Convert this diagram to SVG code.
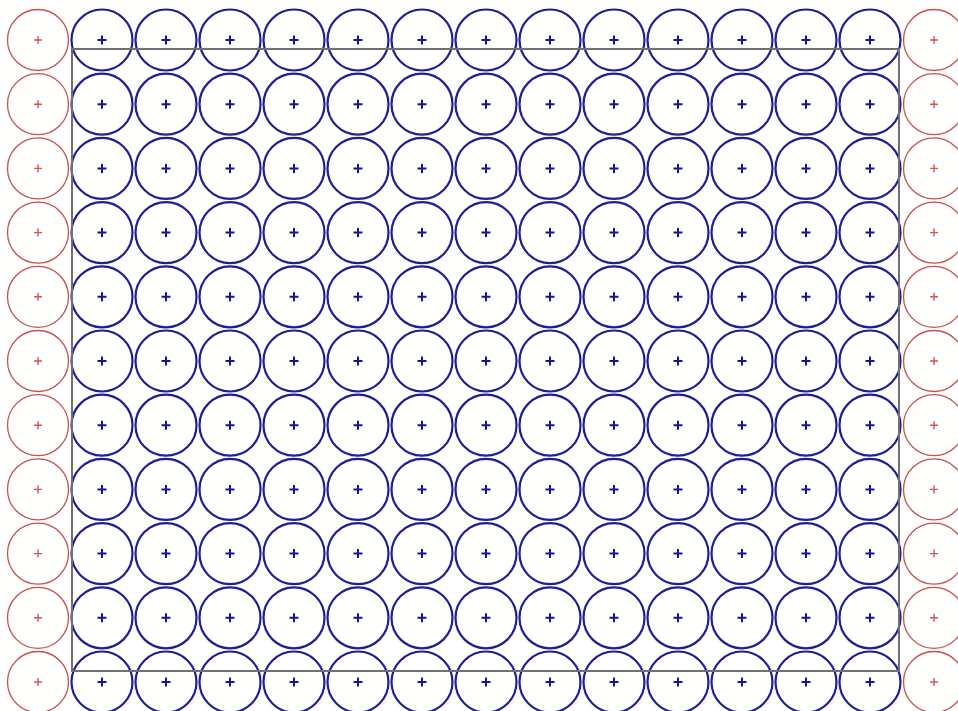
<svg xmlns="http://www.w3.org/2000/svg" xmlns:xlink="http://www.w3.org/1999/xlink" width="958" height="711" viewBox="0 0 958 711">
<style>
.bc{fill:none;stroke:#1e1e96;stroke-width:2.2}
.bp{fill:none;stroke:#1414a0;stroke-width:2}
.rc{fill:none;stroke:#c85050;stroke-width:1.3}
.rp{fill:none;stroke:#d05858;stroke-width:1.4}
.frame{fill:none;stroke:#707070;stroke-width:2}
</style>
<defs>
<g id="blue"><circle class="bc" r="30.5"/><path class="bp" d="M-4.5 0H4.5M0 -4.5V4.5"/></g>
<g id="red"><circle class="rc" r="30.5"/><path class="rp" d="M-4 0H4M0 -4V4"/></g>
</defs>
<rect width="958" height="711" fill="#fffffd"/>
<g id="row0" transform="translate(0 40)">
<g id="n0-0" transform="translate(38 0)"><use href="#red"/></g>
<g id="n0-1" transform="translate(102 0)"><use href="#blue"/></g>
<g id="n0-2" transform="translate(166 0)"><use href="#blue"/></g>
<g id="n0-3" transform="translate(230 0)"><use href="#blue"/></g>
<g id="n0-4" transform="translate(294 0)"><use href="#blue"/></g>
<g id="n0-5" transform="translate(358 0)"><use href="#blue"/></g>
<g id="n0-6" transform="translate(422 0)"><use href="#blue"/></g>
<g id="n0-7" transform="translate(486 0)"><use href="#blue"/></g>
<g id="n0-8" transform="translate(550 0)"><use href="#blue"/></g>
<g id="n0-9" transform="translate(614 0)"><use href="#blue"/></g>
<g id="n0-10" transform="translate(678 0)"><use href="#blue"/></g>
<g id="n0-11" transform="translate(742 0)"><use href="#blue"/></g>
<g id="n0-12" transform="translate(806 0)"><use href="#blue"/></g>
<g id="n0-13" transform="translate(870 0)"><use href="#blue"/></g>
<g id="n0-14" transform="translate(934 0)"><use href="#red"/></g>
</g>
<g id="row1" transform="translate(0 104.2)">
<g id="n1-0" transform="translate(38 0)"><use href="#red"/></g>
<g id="n1-1" transform="translate(102 0)"><use href="#blue"/></g>
<g id="n1-2" transform="translate(166 0)"><use href="#blue"/></g>
<g id="n1-3" transform="translate(230 0)"><use href="#blue"/></g>
<g id="n1-4" transform="translate(294 0)"><use href="#blue"/></g>
<g id="n1-5" transform="translate(358 0)"><use href="#blue"/></g>
<g id="n1-6" transform="translate(422 0)"><use href="#blue"/></g>
<g id="n1-7" transform="translate(486 0)"><use href="#blue"/></g>
<g id="n1-8" transform="translate(550 0)"><use href="#blue"/></g>
<g id="n1-9" transform="translate(614 0)"><use href="#blue"/></g>
<g id="n1-10" transform="translate(678 0)"><use href="#blue"/></g>
<g id="n1-11" transform="translate(742 0)"><use href="#blue"/></g>
<g id="n1-12" transform="translate(806 0)"><use href="#blue"/></g>
<g id="n1-13" transform="translate(870 0)"><use href="#blue"/></g>
<g id="n1-14" transform="translate(934 0)"><use href="#red"/></g>
</g>
<g id="row2" transform="translate(0 168.4)">
<g id="n2-0" transform="translate(38 0)"><use href="#red"/></g>
<g id="n2-1" transform="translate(102 0)"><use href="#blue"/></g>
<g id="n2-2" transform="translate(166 0)"><use href="#blue"/></g>
<g id="n2-3" transform="translate(230 0)"><use href="#blue"/></g>
<g id="n2-4" transform="translate(294 0)"><use href="#blue"/></g>
<g id="n2-5" transform="translate(358 0)"><use href="#blue"/></g>
<g id="n2-6" transform="translate(422 0)"><use href="#blue"/></g>
<g id="n2-7" transform="translate(486 0)"><use href="#blue"/></g>
<g id="n2-8" transform="translate(550 0)"><use href="#blue"/></g>
<g id="n2-9" transform="translate(614 0)"><use href="#blue"/></g>
<g id="n2-10" transform="translate(678 0)"><use href="#blue"/></g>
<g id="n2-11" transform="translate(742 0)"><use href="#blue"/></g>
<g id="n2-12" transform="translate(806 0)"><use href="#blue"/></g>
<g id="n2-13" transform="translate(870 0)"><use href="#blue"/></g>
<g id="n2-14" transform="translate(934 0)"><use href="#red"/></g>
</g>
<g id="row3" transform="translate(0 232.6)">
<g id="n3-0" transform="translate(38 0)"><use href="#red"/></g>
<g id="n3-1" transform="translate(102 0)"><use href="#blue"/></g>
<g id="n3-2" transform="translate(166 0)"><use href="#blue"/></g>
<g id="n3-3" transform="translate(230 0)"><use href="#blue"/></g>
<g id="n3-4" transform="translate(294 0)"><use href="#blue"/></g>
<g id="n3-5" transform="translate(358 0)"><use href="#blue"/></g>
<g id="n3-6" transform="translate(422 0)"><use href="#blue"/></g>
<g id="n3-7" transform="translate(486 0)"><use href="#blue"/></g>
<g id="n3-8" transform="translate(550 0)"><use href="#blue"/></g>
<g id="n3-9" transform="translate(614 0)"><use href="#blue"/></g>
<g id="n3-10" transform="translate(678 0)"><use href="#blue"/></g>
<g id="n3-11" transform="translate(742 0)"><use href="#blue"/></g>
<g id="n3-12" transform="translate(806 0)"><use href="#blue"/></g>
<g id="n3-13" transform="translate(870 0)"><use href="#blue"/></g>
<g id="n3-14" transform="translate(934 0)"><use href="#red"/></g>
</g>
<g id="row4" transform="translate(0 296.8)">
<g id="n4-0" transform="translate(38 0)"><use href="#red"/></g>
<g id="n4-1" transform="translate(102 0)"><use href="#blue"/></g>
<g id="n4-2" transform="translate(166 0)"><use href="#blue"/></g>
<g id="n4-3" transform="translate(230 0)"><use href="#blue"/></g>
<g id="n4-4" transform="translate(294 0)"><use href="#blue"/></g>
<g id="n4-5" transform="translate(358 0)"><use href="#blue"/></g>
<g id="n4-6" transform="translate(422 0)"><use href="#blue"/></g>
<g id="n4-7" transform="translate(486 0)"><use href="#blue"/></g>
<g id="n4-8" transform="translate(550 0)"><use href="#blue"/></g>
<g id="n4-9" transform="translate(614 0)"><use href="#blue"/></g>
<g id="n4-10" transform="translate(678 0)"><use href="#blue"/></g>
<g id="n4-11" transform="translate(742 0)"><use href="#blue"/></g>
<g id="n4-12" transform="translate(806 0)"><use href="#blue"/></g>
<g id="n4-13" transform="translate(870 0)"><use href="#blue"/></g>
<g id="n4-14" transform="translate(934 0)"><use href="#red"/></g>
</g>
<g id="row5" transform="translate(0 361)">
<g id="n5-0" transform="translate(38 0)"><use href="#red"/></g>
<g id="n5-1" transform="translate(102 0)"><use href="#blue"/></g>
<g id="n5-2" transform="translate(166 0)"><use href="#blue"/></g>
<g id="n5-3" transform="translate(230 0)"><use href="#blue"/></g>
<g id="n5-4" transform="translate(294 0)"><use href="#blue"/></g>
<g id="n5-5" transform="translate(358 0)"><use href="#blue"/></g>
<g id="n5-6" transform="translate(422 0)"><use href="#blue"/></g>
<g id="n5-7" transform="translate(486 0)"><use href="#blue"/></g>
<g id="n5-8" transform="translate(550 0)"><use href="#blue"/></g>
<g id="n5-9" transform="translate(614 0)"><use href="#blue"/></g>
<g id="n5-10" transform="translate(678 0)"><use href="#blue"/></g>
<g id="n5-11" transform="translate(742 0)"><use href="#blue"/></g>
<g id="n5-12" transform="translate(806 0)"><use href="#blue"/></g>
<g id="n5-13" transform="translate(870 0)"><use href="#blue"/></g>
<g id="n5-14" transform="translate(934 0)"><use href="#red"/></g>
</g>
<g id="row6" transform="translate(0 425.2)">
<g id="n6-0" transform="translate(38 0)"><use href="#red"/></g>
<g id="n6-1" transform="translate(102 0)"><use href="#blue"/></g>
<g id="n6-2" transform="translate(166 0)"><use href="#blue"/></g>
<g id="n6-3" transform="translate(230 0)"><use href="#blue"/></g>
<g id="n6-4" transform="translate(294 0)"><use href="#blue"/></g>
<g id="n6-5" transform="translate(358 0)"><use href="#blue"/></g>
<g id="n6-6" transform="translate(422 0)"><use href="#blue"/></g>
<g id="n6-7" transform="translate(486 0)"><use href="#blue"/></g>
<g id="n6-8" transform="translate(550 0)"><use href="#blue"/></g>
<g id="n6-9" transform="translate(614 0)"><use href="#blue"/></g>
<g id="n6-10" transform="translate(678 0)"><use href="#blue"/></g>
<g id="n6-11" transform="translate(742 0)"><use href="#blue"/></g>
<g id="n6-12" transform="translate(806 0)"><use href="#blue"/></g>
<g id="n6-13" transform="translate(870 0)"><use href="#blue"/></g>
<g id="n6-14" transform="translate(934 0)"><use href="#red"/></g>
</g>
<g id="row7" transform="translate(0 489.4)">
<g id="n7-0" transform="translate(38 0)"><use href="#red"/></g>
<g id="n7-1" transform="translate(102 0)"><use href="#blue"/></g>
<g id="n7-2" transform="translate(166 0)"><use href="#blue"/></g>
<g id="n7-3" transform="translate(230 0)"><use href="#blue"/></g>
<g id="n7-4" transform="translate(294 0)"><use href="#blue"/></g>
<g id="n7-5" transform="translate(358 0)"><use href="#blue"/></g>
<g id="n7-6" transform="translate(422 0)"><use href="#blue"/></g>
<g id="n7-7" transform="translate(486 0)"><use href="#blue"/></g>
<g id="n7-8" transform="translate(550 0)"><use href="#blue"/></g>
<g id="n7-9" transform="translate(614 0)"><use href="#blue"/></g>
<g id="n7-10" transform="translate(678 0)"><use href="#blue"/></g>
<g id="n7-11" transform="translate(742 0)"><use href="#blue"/></g>
<g id="n7-12" transform="translate(806 0)"><use href="#blue"/></g>
<g id="n7-13" transform="translate(870 0)"><use href="#blue"/></g>
<g id="n7-14" transform="translate(934 0)"><use href="#red"/></g>
</g>
<g id="row8" transform="translate(0 553.6)">
<g id="n8-0" transform="translate(38 0)"><use href="#red"/></g>
<g id="n8-1" transform="translate(102 0)"><use href="#blue"/></g>
<g id="n8-2" transform="translate(166 0)"><use href="#blue"/></g>
<g id="n8-3" transform="translate(230 0)"><use href="#blue"/></g>
<g id="n8-4" transform="translate(294 0)"><use href="#blue"/></g>
<g id="n8-5" transform="translate(358 0)"><use href="#blue"/></g>
<g id="n8-6" transform="translate(422 0)"><use href="#blue"/></g>
<g id="n8-7" transform="translate(486 0)"><use href="#blue"/></g>
<g id="n8-8" transform="translate(550 0)"><use href="#blue"/></g>
<g id="n8-9" transform="translate(614 0)"><use href="#blue"/></g>
<g id="n8-10" transform="translate(678 0)"><use href="#blue"/></g>
<g id="n8-11" transform="translate(742 0)"><use href="#blue"/></g>
<g id="n8-12" transform="translate(806 0)"><use href="#blue"/></g>
<g id="n8-13" transform="translate(870 0)"><use href="#blue"/></g>
<g id="n8-14" transform="translate(934 0)"><use href="#red"/></g>
</g>
<g id="row9" transform="translate(0 617.8)">
<g id="n9-0" transform="translate(38 0)"><use href="#red"/></g>
<g id="n9-1" transform="translate(102 0)"><use href="#blue"/></g>
<g id="n9-2" transform="translate(166 0)"><use href="#blue"/></g>
<g id="n9-3" transform="translate(230 0)"><use href="#blue"/></g>
<g id="n9-4" transform="translate(294 0)"><use href="#blue"/></g>
<g id="n9-5" transform="translate(358 0)"><use href="#blue"/></g>
<g id="n9-6" transform="translate(422 0)"><use href="#blue"/></g>
<g id="n9-7" transform="translate(486 0)"><use href="#blue"/></g>
<g id="n9-8" transform="translate(550 0)"><use href="#blue"/></g>
<g id="n9-9" transform="translate(614 0)"><use href="#blue"/></g>
<g id="n9-10" transform="translate(678 0)"><use href="#blue"/></g>
<g id="n9-11" transform="translate(742 0)"><use href="#blue"/></g>
<g id="n9-12" transform="translate(806 0)"><use href="#blue"/></g>
<g id="n9-13" transform="translate(870 0)"><use href="#blue"/></g>
<g id="n9-14" transform="translate(934 0)"><use href="#red"/></g>
</g>
<g id="row10" transform="translate(0 682)">
<g id="n10-0" transform="translate(38 0)"><use href="#red"/></g>
<g id="n10-1" transform="translate(102 0)"><use href="#blue"/></g>
<g id="n10-2" transform="translate(166 0)"><use href="#blue"/></g>
<g id="n10-3" transform="translate(230 0)"><use href="#blue"/></g>
<g id="n10-4" transform="translate(294 0)"><use href="#blue"/></g>
<g id="n10-5" transform="translate(358 0)"><use href="#blue"/></g>
<g id="n10-6" transform="translate(422 0)"><use href="#blue"/></g>
<g id="n10-7" transform="translate(486 0)"><use href="#blue"/></g>
<g id="n10-8" transform="translate(550 0)"><use href="#blue"/></g>
<g id="n10-9" transform="translate(614 0)"><use href="#blue"/></g>
<g id="n10-10" transform="translate(678 0)"><use href="#blue"/></g>
<g id="n10-11" transform="translate(742 0)"><use href="#blue"/></g>
<g id="n10-12" transform="translate(806 0)"><use href="#blue"/></g>
<g id="n10-13" transform="translate(870 0)"><use href="#blue"/></g>
<g id="n10-14" transform="translate(934 0)"><use href="#red"/></g>
</g>
<g id="frame-group">
<rect class="frame" x="72" y="49" width="827" height="622"/>
</g>
</svg>
